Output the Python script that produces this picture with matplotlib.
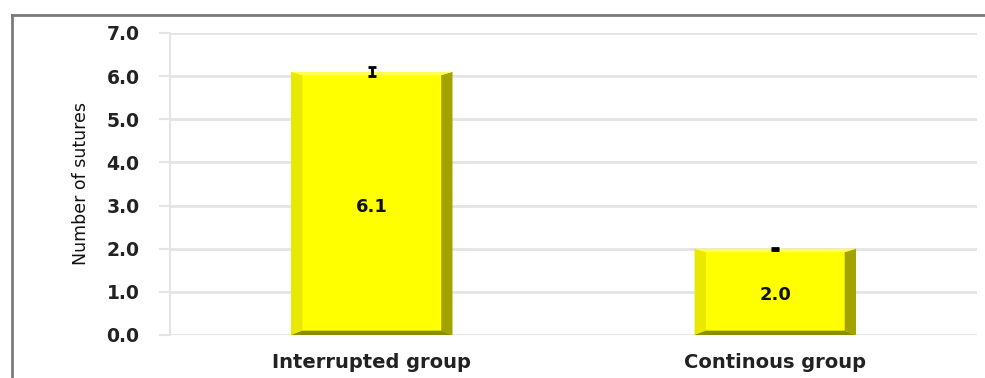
import matplotlib
matplotlib.use("Agg")
import matplotlib.pyplot as plt
from matplotlib.patches import Polygon
from matplotlib.lines import Line2D

# data
groups = ["Interrupted group", "Continous group"]
means = [6.1, 2.0]
errors = [0.1, 0.02]
y_ticks = [0.0, 1.0, 2.0, 3.0, 4.0, 5.0, 6.0, 7.0]

BAR_W = 0.40
FACE = "#ffff00"
LEFT_SIDE = "#e8e800"
RIGHT_SIDE = "#a3a300"
BOTTOM_SIDE = "#8c8c00"
TOP_SIDE = "#ffff55"
GRID = "#e4e4e4"

fig = plt.figure(figsize=(9.85, 3.78), dpi=100)
ax = fig.add_axes([0.1726, 0.1138, 0.8193, 0.799])

x = list(range(len(groups)))
ax.bar(x, means, width=BAR_W, color=FACE, zorder=2)

# bevelled edges to give the bars a raised look
bx = 0.028
by_bot = 0.1
by_top = 0.08
for xi, h in zip(x, means):
    l, r = xi - BAR_W / 2, xi + BAR_W / 2
    ax.add_patch(Polygon([(l, 0), (l + bx, by_bot), (l + bx, h - by_top), (l, h)],
                         closed=True, color=LEFT_SIDE, lw=0, zorder=3))
    ax.add_patch(Polygon([(r, 0), (r - bx, by_bot), (r - bx, h - by_top), (r, h)],
                         closed=True, color=RIGHT_SIDE, lw=0, zorder=3))
    ax.add_patch(Polygon([(l, 0), (r, 0), (r - bx, by_bot), (l + bx, by_bot)],
                         closed=True, color=BOTTOM_SIDE, lw=0, zorder=3))
    ax.add_patch(Polygon([(l, h), (r, h), (r - bx, h - by_top), (l + bx, h - by_top)],
                         closed=True, color=TOP_SIDE, lw=0, zorder=3))
    ax.text(xi, h / 2 - 0.08, f"{h:.1f}", ha="center", va="center",
            fontsize=13, fontweight="bold", color="#111111", zorder=5)

ax.errorbar(x, means, yerr=errors, fmt="none", ecolor="black",
            elinewidth=2, capsize=3, capthick=2, zorder=6)

ax.set_xlim(-0.5, 1.5)
ax.set_ylim(0, 7)
ax.set_yticks(y_ticks)
ax.set_yticklabels([f"{v:.1f}" for v in y_ticks], fontsize=13.5, fontweight="bold", color="#222222")
ax.set_xticks(x)
ax.set_xticklabels(groups, fontsize=14, fontweight="bold", color="#222222")
ax.tick_params(axis="x", length=0, pad=13)
ax.tick_params(axis="y", length=8, width=1.5, color=GRID, pad=14)

ax.yaxis.grid(True, color=GRID, lw=2)
ax.set_axisbelow(True)
for side in ["top", "right", "bottom"]:
    ax.spines[side].set_visible(False)
ax.spines["left"].set_color(GRID)
ax.spines["left"].set_linewidth(1.5)

ax.set_ylabel("Number of sutures", fontsize=12.5, color="#111111", labelpad=12)

# outer frame lines (top and left)
fig.add_artist(Line2D([12 / 985, 1.0], [1 - 15 / 378, 1 - 15 / 378],
                      transform=fig.transFigure, color="#7a7a7a", lw=2))
fig.add_artist(Line2D([12 / 985, 12 / 985], [0.0, 1 - 15 / 378],
                      transform=fig.transFigure, color="#7a7a7a", lw=2))

fig.savefig("out.png", dpi=100)
